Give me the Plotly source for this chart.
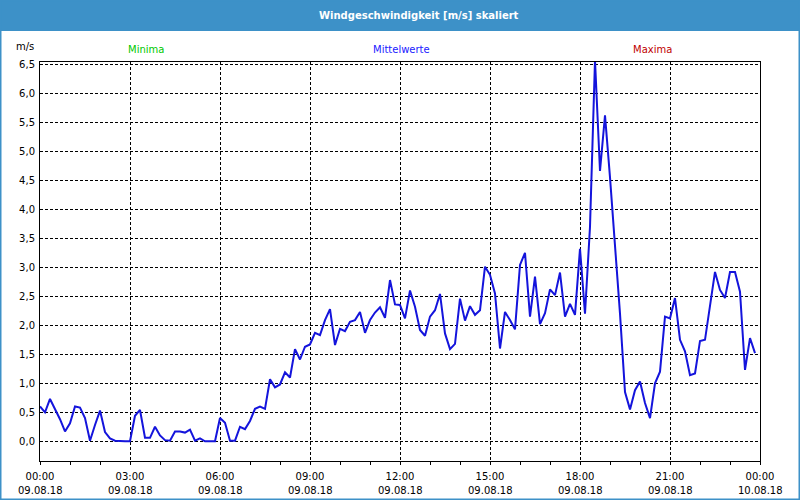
import pandas as pd
import plotly.graph_objects as go

# ---- data ----
times = pd.date_range("2018-08-09 00:00", periods=144, freq="10min")
wind_ms = [
    0.60, 0.50, 0.73, 0.56, 0.38, 0.17, 0.31, 0.60, 0.58, 0.40, 0.01, 0.28,
    0.53, 0.16, 0.05, 0.01, 0.00, 0.00, 0.00, 0.44, 0.54, 0.06, 0.06, 0.25,
    0.10, 0.02, 0.01, 0.17, 0.17, 0.15, 0.20, 0.01, 0.05, 0.00, 0.00, 0.00,
    0.40, 0.32, 0.01, 0.01, 0.25, 0.21, 0.35, 0.56, 0.60, 0.56, 1.07, 0.93,
    0.98, 1.19, 1.10, 1.59, 1.41, 1.63, 1.67, 1.87, 1.83, 2.09, 2.28, 1.66,
    1.94, 1.90, 2.06, 2.09, 2.23, 1.87, 2.09, 2.22, 2.31, 2.13, 2.78, 2.36,
    2.35, 2.12, 2.60, 2.32, 1.92, 1.82, 2.15, 2.26, 2.54, 1.86, 1.59, 1.68,
    2.46, 2.08, 2.33, 2.18, 2.26, 3.01, 2.87, 2.55, 1.60, 2.23, 2.09, 1.93,
    3.04, 3.25, 2.15, 2.84, 2.02, 2.21, 2.62, 2.52, 2.91, 2.15, 2.37, 2.18,
    3.32, 2.20, 3.70, 6.57, 4.66, 5.62, 4.55, 3.40, 2.20, 0.85, 0.55, 0.88,
    1.03, 0.66, 0.40, 1.00, 1.20, 2.15, 2.12, 2.47, 1.75, 1.55, 1.14, 1.17,
    1.73, 1.75, 2.38, 2.92, 2.61, 2.47, 2.92, 2.92, 2.58, 1.23, 1.78, 1.52,
]
x_tick_times = [
    "2018-08-09 00:00", "2018-08-09 03:00", "2018-08-09 06:00",
    "2018-08-09 09:00", "2018-08-09 12:00", "2018-08-09 15:00",
    "2018-08-09 18:00", "2018-08-09 21:00", "2018-08-10 00:00",
]
x_tick_time_text = ["00:00", "03:00", "06:00", "09:00", "12:00",
                    "15:00", "18:00", "21:00", "00:00"]
x_tick_date_text = ["09.08.18", "09.08.18", "09.08.18", "09.08.18", "09.08.18",
                    "09.08.18", "09.08.18", "09.08.18", "10.08.18"]
y_ticks = [0.0, 0.5, 1.0, 1.5, 2.0, 2.5, 3.0, 3.5, 4.0, 4.5, 5.0, 5.5, 6.0, 6.5]

title_text = "Windgeschwindigkeit [m/s] skaliert"
legend_labels = ["Minima", "Mittelwerte", "Maxima"]
legend_colors = ["#00c800", "#2020ff", "#c00000"]

# ---- layout geometry (pixels) ----
W, H = 800, 500
L, R, T, B = 40, 40, 62, 39
PW, PH = W - L - R, H - T - B

def px(x):
    return (x - L) / PW

def py(y):
    return (H - B - y) / PH

FONT = "DejaVu Sans"
BLUE = "#3d91c8"

fig = go.Figure()
fig.add_trace(go.Scatter(
    x=times, y=wind_ms, mode="lines",
    line=dict(color="#1414dc", width=2),
    showlegend=False, hoverinfo="x+y",
))

shapes = [
    # title bar
    dict(type="rect", xref="paper", yref="paper",
         x0=px(0), x1=px(W), y0=py(31), y1=py(0),
         fillcolor=BLUE, line=dict(width=0), layer="above"),
    # window frame
    dict(type="rect", xref="paper", yref="paper",
         x0=px(0), x1=px(W), y0=py(H), y1=py(0),
         fillcolor="rgba(0,0,0,0)", line=dict(color=BLUE, width=3), layer="above"),
]

annotations = [
    dict(text=title_text, xref="paper", yref="paper", x=px(419), y=py(15.5),
         xanchor="center", yanchor="middle", showarrow=False,
         font=dict(family=FONT, size=10, color="white", weight="bold")),
    dict(text="m/s", xref="paper", yref="paper", x=px(36), y=py(47),
         xanchor="right", yanchor="middle", showarrow=False,
         font=dict(family=FONT, size=10, color="black")),
]
for lab, col, cx in zip(legend_labels, legend_colors, [146, 401, 652]):
    annotations.append(dict(text=lab, xref="paper", yref="paper", x=px(cx), y=py(49.5),
                            xanchor="center", yanchor="middle", showarrow=False,
                            font=dict(family=FONT, size=10, color=col)))
# second line of the x tick labels (dates)
for tv, dt in zip(x_tick_times, x_tick_date_text):
    annotations.append(dict(text=dt, xref="x", yref="paper", x=tv, y=py(490.5),
                            xanchor="center", yanchor="middle", showarrow=False,
                            font=dict(family=FONT, size=10, color="black")))

fig.update_layout(
    width=W, height=H, autosize=False,
    margin=dict(l=L, r=R, t=T, b=B, pad=0),
    paper_bgcolor="white", plot_bgcolor="white",
    font=dict(family=FONT, size=10, color="black"),
    separators=",.",
    shapes=shapes, annotations=annotations,
)
fig.update_xaxes(
    type="date", automargin=False,
    range=["2018-08-09 00:00", "2018-08-10 00:00"],
    tickmode="array", tickvals=x_tick_times, ticktext=x_tick_time_text,
    ticks="outside", ticklen=3, tickcolor="black", tickwidth=1,
    ticklabelstandoff=3,
    showgrid=True, gridcolor="black", gridwidth=1, griddash="3px,2px",
    showline=True, linecolor="black", linewidth=1, mirror=True,
    zeroline=False,
    minor=dict(tickmode="linear", tick0="2018-08-09 00:00", dtick=3600000,
               ticks="outside", ticklen=3, tickcolor="black", showgrid=False),
    tickfont=dict(family=FONT, size=10, color="black"),
)
fig.update_yaxes(
    automargin=False,
    range=[-0.34, 6.54],
    tickmode="array", tickvals=y_ticks, tickformat=".1f",
    ticks="", showgrid=True, gridcolor="black", gridwidth=1, griddash="3px,2px",
    showline=True, linecolor="black", linewidth=1, mirror=True,
    zeroline=False,
    tickfont=dict(family=FONT, size=10, color="black"),
    ticklabelstandoff=2,
)

fig.write_html("out.html")
